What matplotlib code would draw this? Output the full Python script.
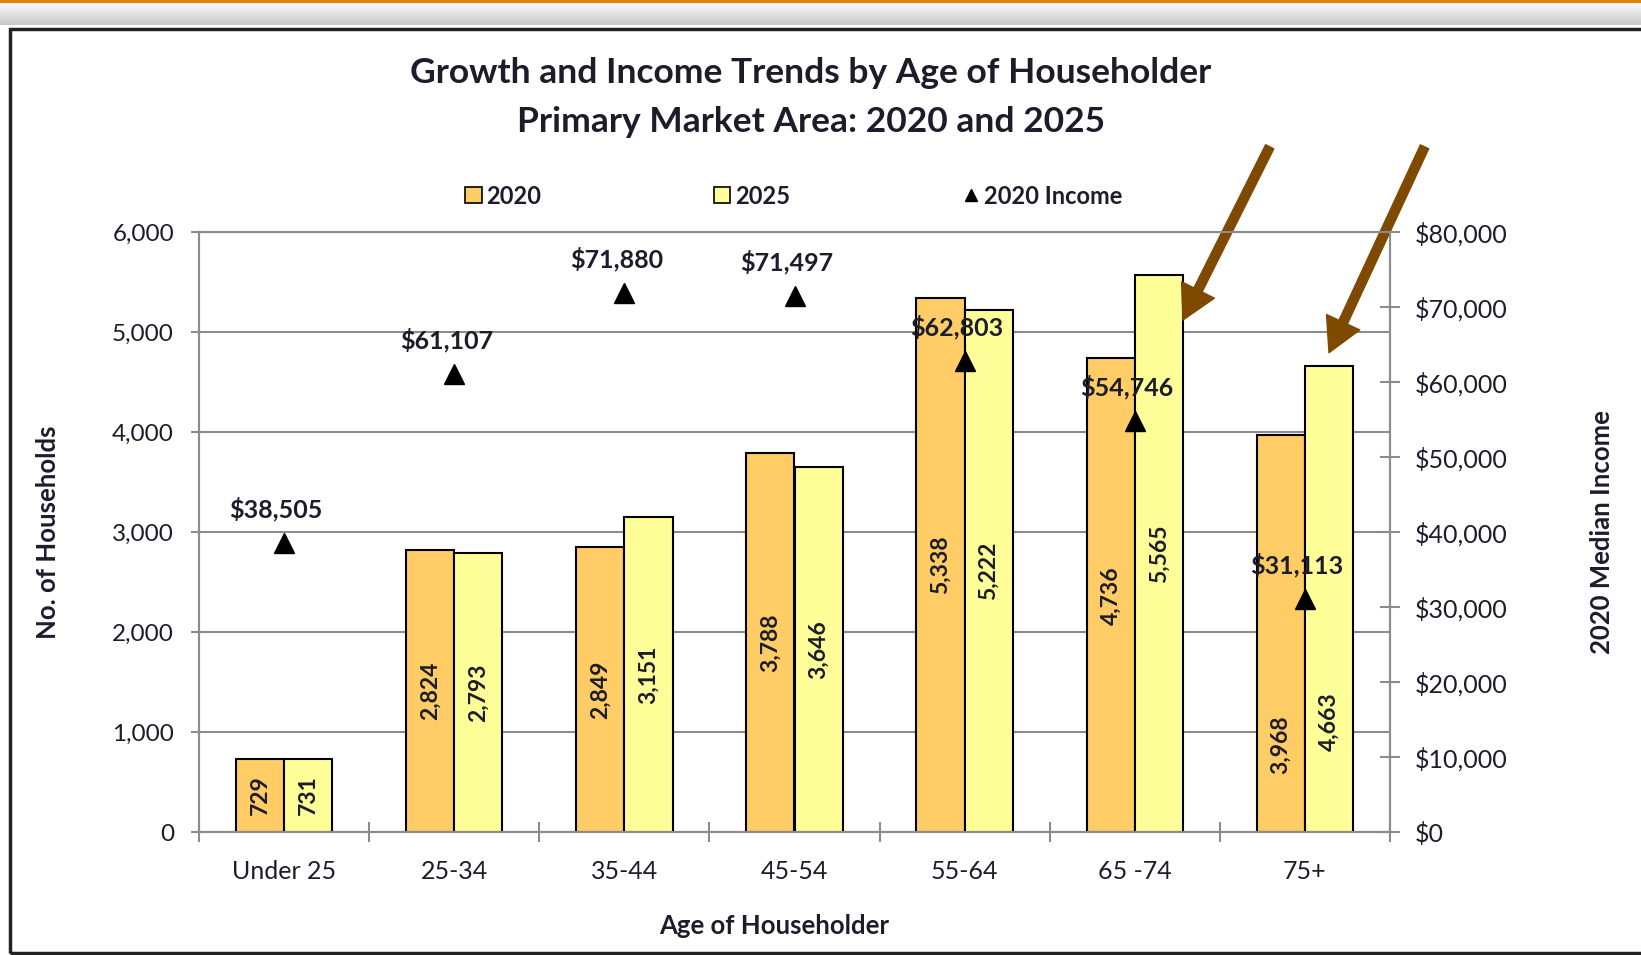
import numpy as np
import matplotlib.pyplot as plt
from matplotlib.patches import Patch, Rectangle
from matplotlib.lines import Line2D
from matplotlib.ticker import FuncFormatter, MultipleLocator

plt.rcParams['font.family'] = ['Lato', 'DejaVu Sans']

# data
ages = ["Under 25", "25-34", "35-44", "45-54", "55-64", "65 -74", "75+"]
hh_2020 = [729, 2824, 2849, 3788, 5338, 4736, 3968]
hh_2025 = [731, 2793, 3151, 3646, 5222, 5565, 4663]
income_2020 = [38505, 61107, 71880, 71497, 62803, 54746, 31113]

ORANGE = "#FFCC66"
YELLOW = "#FFFF99"
BROWN = "#7F4A00"
TXT = "#1c1c2a"
GRID = "#8c8c8c"

W, H = 1641, 955
fig = plt.figure(figsize=(W / 100, H / 100), dpi=100)

# page decoration: orange rule, grey shadow, frame
g = fig.add_axes([0, 1 - 25 / H, 1, 22 / H])
g.imshow(np.linspace(0.98, 0.78, 40).reshape(-1, 1), cmap="gray", vmin=0, vmax=1,
         aspect="auto", extent=[0, 1, 0, 1])
g.axis("off")
fig.add_artist(Rectangle((0, 1 - 3 / H), 1, 3 / H, transform=fig.transFigure,
                         color="#E08000", lw=0))
fig.add_artist(Rectangle((10 / W, 2 / H), 1.05, (H - 31) / H, transform=fig.transFigure,
                         fill=False, ec="#222222", lw=2.5, clip_on=False))

ax = fig.add_axes([199 / W, 1 - 832 / H, (1390 - 199) / W, 600 / H])
x = np.arange(len(ages))
bw = 0.283

ax.bar(x - bw / 2, hh_2020, bw, color=ORANGE, edgecolor="black", lw=1.5, zorder=3)
ax.bar(x + bw / 2, hh_2025, bw, color=YELLOW, edgecolor="black", lw=1.5, zorder=3)

# label heights as fraction of bar (75+ labels sit low in the original)
frac = {6: (0.22, 0.236)}
for i in range(len(ages)):
    f1, f2 = frac.get(i, (0.5, 0.5))
    ax.text(x[i] - bw / 2, hh_2020[i] * f1, f"{hh_2020[i]:,}", rotation=90, ha="center",
            va="center", fontsize=16.5, fontweight="bold", color=TXT, zorder=4)
    ax.text(x[i] + bw / 2, hh_2025[i] * f2, f"{hh_2025[i]:,}", rotation=90, ha="center",
            va="center", fontsize=16.5, fontweight="bold", color=TXT, zorder=4)

ax.set_xlim(-0.5, len(ages) - 0.5)
ax.set_ylim(0, 6000)
ax.yaxis.set_major_locator(MultipleLocator(1000))
ax.yaxis.set_major_formatter(FuncFormatter(lambda v, p: f"{int(v):,}"))
ax.grid(axis="y", color=GRID, lw=1.5, zorder=0)
ax.set_axisbelow(True)
ax.set_xticks(x)
ax.set_xticklabels(ages)
ax.set_xticks(np.arange(-0.5, len(ages)), minor=True)
ax.tick_params(axis="x", which="major", length=0, pad=20, labelsize=18, labelcolor=TXT)
ax.tick_params(axis="x", which="minor", length=15, direction="inout", width=1.5, color=GRID)
ax.tick_params(axis="y", length=6, width=1.5, color=GRID, labelsize=17.5, labelcolor=TXT, pad=12)
for s in ax.spines.values():
    s.set_color(GRID)
    s.set_linewidth(1.5)

ax.set_xlabel("Age of Householder", fontsize=18.5, fontweight="bold", color=TXT)
ax.xaxis.set_label_coords((774 - 199) / 1191, -0.137)
ax.set_ylabel("No. of Households", fontsize=18.5, fontweight="bold", color=TXT)
ax.yaxis.set_label_coords(-(199 - 60) / 1191, 0.5)

ax2 = ax.twinx()
ax2.set_ylim(0, 80000)
ax2.yaxis.set_major_locator(MultipleLocator(10000))
ax2.yaxis.set_major_formatter(FuncFormatter(lambda v, p: f"${int(v):,}"))
ax2.tick_params(axis="y", length=15, direction="inout", width=1.5, color=GRID,
                labelsize=18, labelcolor=TXT, pad=10)
for s in ax2.spines.values():
    s.set_color(GRID)
    s.set_linewidth(1.5)
ax2.plot(x, income_2020, ls="none", marker="^", ms=14, color="black", zorder=5)
for i, v in enumerate(income_2020):
    ax2.annotate(f"${v:,}", xy=(x[i], v), xytext=(-8, 34), textcoords="offset pixels",
                 ha="center", va="center", fontsize=18, fontweight="bold", color=TXT)
ax2.set_ylabel("2020 Median Income", fontsize=18.5, fontweight="bold", color=TXT)
ax2.yaxis.set_label_coords((1590 - 199) / 1191, 0.5)

# arrows pointing at the 2025 bars of the two oldest groups
arrow = dict(arrowstyle="simple,head_length=1.1,head_width=1.2,tail_width=0.3",
             color=BROWN, shrinkA=0, shrinkB=0, mutation_scale=22)
ax.annotate("", xy=(x[5] + bw, hh_2025[5] * 0.92), xytext=(0.899, 1.142),
            textcoords="axes fraction", arrowprops=arrow, annotation_clip=False)
ax.annotate("", xy=(x[6] + bw / 2, hh_2025[6] + 130), xytext=(1.029, 1.142),
            textcoords="axes fraction", arrowprops=arrow, annotation_clip=False)

fig.text(811 / W, 1 - 73 / H, "Growth and Income Trends by Age of Householder",
         ha="center", va="center", fontsize=25.5, fontweight="bold", color=TXT)
fig.text(811 / W, 1 - 122 / H, "Primary Market Area: 2020 and 2025",
         ha="center", va="center", fontsize=25.5, fontweight="bold", color=TXT)

handles = [Patch(facecolor=ORANGE, edgecolor="black", lw=1.2),
           Patch(facecolor=YELLOW, edgecolor="black", lw=1.2),
           Line2D([], [], ls="none", marker="^", ms=9, color="black")]
fig.legend(handles, ["2020", "2025", "2020 Income"], loc="center left",
           bbox_to_anchor=(465 / W, 1 - 196 / H), ncol=3, frameon=False,
           prop={"size": 17, "weight": "bold"}, handlelength=0.7, handleheight=0.7,
           handletextpad=0.2, columnspacing=7.3, borderpad=0, borderaxespad=0,
           labelcolor=TXT)

fig.savefig("out.png", dpi=100, facecolor="white")
